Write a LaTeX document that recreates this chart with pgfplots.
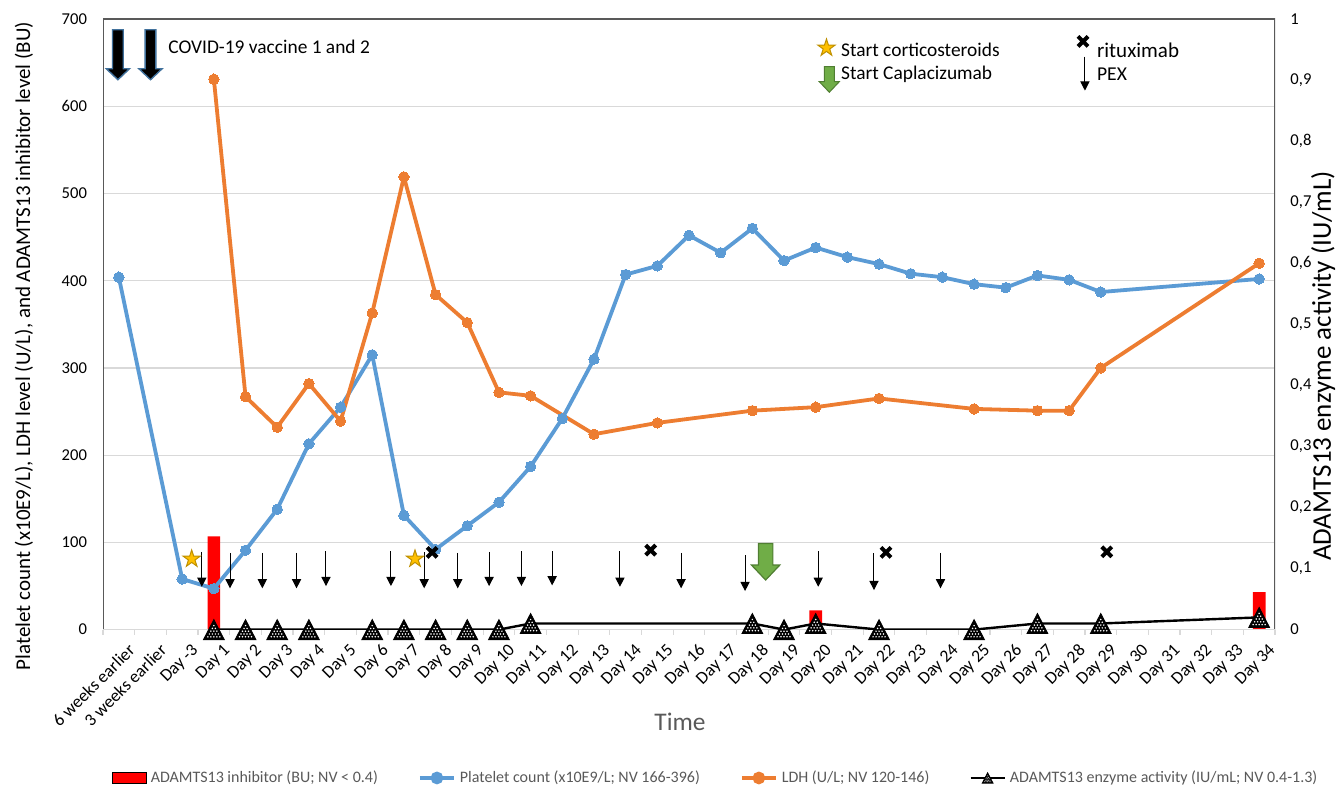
\documentclass[border=0pt]{standalone}
\usepackage{fontspec}
\setmainfont{Carlito}
\usepackage{pgfplots}
\pgfplotsset{compat=1.18}
\usetikzlibrary{arrows.meta}

\definecolor{platblue}{HTML}{5B9BD5}
\definecolor{ldhorange}{HTML}{ED7D31}
\definecolor{gridgray}{HTML}{D9D9D9}
\definecolor{axisgray}{HTML}{595959}
\definecolor{starfill}{HTML}{FFC000}
\definecolor{stardraw}{HTML}{BF9000}
\definecolor{capfill}{HTML}{70AD47}
\definecolor{capdraw}{HTML}{507E32}
\definecolor{vacdraw}{HTML}{41719C}

% dotted black triangle (ADAMTS13 activity)
\newcommand\tdot[2]{\pgfpathcircle{\pgfqpoint{#1\pgfplotmarksize}{#2\pgfplotmarksize}}{0.085\pgfplotmarksize}}
\pgfdeclareplotmark{dottri}{%
  \pgfsetfillcolor{black}%
  \pgfpathmoveto{\pgfqpoint{0pt}{\pgfplotmarksize}}%
  \pgfpathlineto{\pgfqpoint{-1.04\pgfplotmarksize}{-\pgfplotmarksize}}%
  \pgfpathlineto{\pgfqpoint{1.04\pgfplotmarksize}{-\pgfplotmarksize}}%
  \pgfpathclose
  \pgfusepathqfillstroke
  \begin{pgfscope}
  \pgfsetfillcolor{white}%
  \tdot{-0.6}{-0.72}\tdot{-0.3}{-0.72}\tdot{0}{-0.72}\tdot{0.3}{-0.72}\tdot{0.6}{-0.72}%
  \tdot{-0.45}{-0.44}\tdot{-0.15}{-0.44}\tdot{0.15}{-0.44}\tdot{0.45}{-0.44}%
  \tdot{-0.3}{-0.16}\tdot{0}{-0.16}\tdot{0.3}{-0.16}%
  \tdot{-0.15}{0.12}\tdot{0.15}{0.12}%
  \tdot{0}{0.4}%
  \pgfusepathqfill
  \end{pgfscope}
}
% filled five-pointed star
\pgfdeclareplotmark{fstar}{%
  \pgfpathmoveto{\pgfqpoint{0pt}{\pgfplotmarksize}}%
  \pgfpathlineto{\pgfqpoint{-0.2245\pgfplotmarksize}{0.309\pgfplotmarksize}}%
  \pgfpathlineto{\pgfqpoint{-0.951\pgfplotmarksize}{0.309\pgfplotmarksize}}%
  \pgfpathlineto{\pgfqpoint{-0.363\pgfplotmarksize}{-0.118\pgfplotmarksize}}%
  \pgfpathlineto{\pgfqpoint{-0.588\pgfplotmarksize}{-0.809\pgfplotmarksize}}%
  \pgfpathlineto{\pgfqpoint{0pt}{-0.382\pgfplotmarksize}}%
  \pgfpathlineto{\pgfqpoint{0.588\pgfplotmarksize}{-0.809\pgfplotmarksize}}%
  \pgfpathlineto{\pgfqpoint{0.363\pgfplotmarksize}{-0.118\pgfplotmarksize}}%
  \pgfpathlineto{\pgfqpoint{0.951\pgfplotmarksize}{0.309\pgfplotmarksize}}%
  \pgfpathlineto{\pgfqpoint{0.2245\pgfplotmarksize}{0.309\pgfplotmarksize}}%
  \pgfpathclose
  \pgfusepathqfillstroke
}
% heavy cross (rituximab), in units of the mark size
\pgfdeclareplotmark{boldx}{%
  \pgfpathmoveto{\pgfqpoint{0pt}{1.41\pgfplotmarksize}}%
  \pgfpathlineto{\pgfqpoint{1.79\pgfplotmarksize}{3.2\pgfplotmarksize}}%
  \pgfpathlineto{\pgfqpoint{3.2\pgfplotmarksize}{1.79\pgfplotmarksize}}%
  \pgfpathlineto{\pgfqpoint{1.41\pgfplotmarksize}{0pt}}%
  \pgfpathlineto{\pgfqpoint{3.2\pgfplotmarksize}{-1.79\pgfplotmarksize}}%
  \pgfpathlineto{\pgfqpoint{1.79\pgfplotmarksize}{-3.2\pgfplotmarksize}}%
  \pgfpathlineto{\pgfqpoint{0pt}{-1.41\pgfplotmarksize}}%
  \pgfpathlineto{\pgfqpoint{-1.79\pgfplotmarksize}{-3.2\pgfplotmarksize}}%
  \pgfpathlineto{\pgfqpoint{-3.2\pgfplotmarksize}{-1.79\pgfplotmarksize}}%
  \pgfpathlineto{\pgfqpoint{-1.41\pgfplotmarksize}{0pt}}%
  \pgfpathlineto{\pgfqpoint{-3.2\pgfplotmarksize}{1.79\pgfplotmarksize}}%
  \pgfpathlineto{\pgfqpoint{-1.79\pgfplotmarksize}{3.2\pgfplotmarksize}}%
  \pgfpathclose
  \pgfusepathqfill
}
% block arrow, anchored at its top (caplacizumab)
\pgfdeclareplotmark{caparrow}{%
  \pgfpathmoveto{\pgfqpoint{-3.6\pgfplotmarksize}{0pt}}%
  \pgfpathlineto{\pgfqpoint{3.6\pgfplotmarksize}{0pt}}%
  \pgfpathlineto{\pgfqpoint{3.6\pgfplotmarksize}{-10.8\pgfplotmarksize}}%
  \pgfpathlineto{\pgfqpoint{7.1\pgfplotmarksize}{-10.8\pgfplotmarksize}}%
  \pgfpathlineto{\pgfqpoint{0pt}{-18.3\pgfplotmarksize}}%
  \pgfpathlineto{\pgfqpoint{-7.1\pgfplotmarksize}{-10.8\pgfplotmarksize}}%
  \pgfpathlineto{\pgfqpoint{-3.6\pgfplotmarksize}{-10.8\pgfplotmarksize}}%
  \pgfpathclose
  \pgfusepathqfillstroke
}
% block arrow, anchored at its top (vaccine)
\pgfdeclareplotmark{vacarrow}{%
  \pgfpathmoveto{\pgfqpoint{-2.7pt}{0pt}}%
  \pgfpathlineto{\pgfqpoint{2.7pt}{0pt}}%
  \pgfpathlineto{\pgfqpoint{2.7pt}{-19.5pt}}%
  \pgfpathlineto{\pgfqpoint{5.8pt}{-19.5pt}}%
  \pgfpathlineto{\pgfqpoint{0pt}{-25pt}}%
  \pgfpathlineto{\pgfqpoint{-5.8pt}{-19.5pt}}%
  \pgfpathlineto{\pgfqpoint{-2.7pt}{-19.5pt}}%
  \pgfpathclose
  \pgfusepathqfillstroke
}

\begin{document}
\begin{tikzpicture}
\path[use as bounding box] (0pt,0pt) rectangle (670pt,394pt);
\begin{axis}[
  at={(51.5pt,79.2pt)}, anchor=south west,
  scale only axis, width=586pt, height=305.3pt,
  xmin=-0.5, xmax=36.5, ymin=0, ymax=700,
  axis line style={draw=none},
  xtick={0,...,36},
  xticklabels={6 weeks earlier,3 weeks earlier,Day -3,Day 1,Day 2,Day 3,Day 4,Day 5,Day 6,Day 7,Day 8,Day 9,Day 10,Day 11,Day 12,Day 13,Day 14,Day 15,Day 16,Day 17,Day 18,Day 19,Day 20,Day 21,Day 22,Day 23,Day 24,Day 25,Day 26,Day 27,Day 28,Day 29,Day 30,Day 31,Day 32,Day 33,Day 34},
  minor xtick={-0.5,0.5,...,36.5},
  xtick pos=left, xticklabel pos=left,
  ytick={0,100,...,700}, ytick pos=left, yticklabel pos=left,
  tick align=outside, major tick length=0pt, minor tick length=2.6pt,
  minor x tick style={gridgray, line width=0.6pt},
  ymajorgrids, major grid style={gridgray, line width=0.6pt},
  ticklabel style={font=\fontsize{8.3}{10}\selectfont},
  xticklabel style={rotate=45, anchor=north east, inner sep=1pt, xshift=-0.5pt, yshift=-6.5pt, font=\fontsize{8.8}{10}\selectfont},
  yticklabel style={xshift=-4.5pt},
  /pgf/number format/assume math mode=true,
  ylabel={Platelet count (x10E9/L), LDH level (U/L), and ADAMTS13 inhibitor level (BU)},
  ylabel style={at={(axis description cs:-0.0674,0.4645)}, anchor=center, font=\fontsize{10.5}{12}\selectfont},
  xlabel={Time},
  xlabel style={at={(axis description cs:0.4923,-0.151)}, anchor=center, font=\fontsize{12.7}{15}\selectfont, text=axisgray},
]
  % ADAMTS13 inhibitor (BU)
  \addplot[ybar, bar width=6.35pt, bar shift=0pt, fill=red, draw=none]
    coordinates {(3,107) (22,22) (36,43)};
  % platelet count
  \addplot[platblue, line width=1.9pt, line join=round, mark=*, mark size=2.6pt, mark options={solid, fill=platblue, draw=platblue, line width=0pt}]
    coordinates {(0,404) (2,58) (3,47) (4,91) (5,138) (6,213) (7,255) (8,315) (9,131) (10,92)
      (11,119) (12,146) (13,187) (14,242) (15,310) (16,407) (17,417) (18,452) (19,432) (20,460)
      (21,423) (22,438) (23,427) (24,419) (25,408) (26,404) (27,396) (28,392) (29,406) (30,401)
      (31,387) (36,402)};
  % LDH
  \addplot[ldhorange, line width=1.9pt, line join=round, mark=*, mark size=2.6pt, mark options={solid, fill=ldhorange, draw=ldhorange, line width=0pt}]
    coordinates {(3,631) (4,267) (5,232) (6,282) (7,239) (8,363) (9,519) (10,384) (11,352)
      (12,272) (13,268) (15,224) (17,237) (20,251) (22,255) (24,265) (27,253) (29,251)
      (30,251) (31,300) (36,420)};
  % PEX
  \addplot[forget plot, black, line width=0.5pt, -{Triangle[width=4.6pt,length=4.6pt]},
    quiver={u=0, v=\thisrow{v}}] table {
    x y v
    2.62 89.2 -40.1
    3.51 88.1 -40.8
    4.53 88.1 -40.8
    5.61 88.1 -40.8
    6.54 90.0 -40.1
    8.59 90.0 -40.1
    9.64 88.5 -41.2
    10.70 88.1 -40.8
    11.69 89.2 -39.3
    12.71 90.0 -40.1
    13.68 90.0 -39.3
    15.82 90.0 -40.9
    17.75 88.1 -40.8
    19.77 85.4 -41.2
    22.08 90.0 -40.9
    23.84 87.4 -42.1
    25.94 88.1 -40.8
    30.50 656.8 -38.9
  };
  % rituximab
  \addplot[forget plot, only marks, mark=boldx, mark size=1pt, mark options={fill=black}]
    coordinates {(9.89,88.5) (16.79,91.1) (24.22,88.5) (31.19,89.2) (30.44,674.3)};
  % corticosteroids
  \addplot[forget plot, only marks, mark=fstar, mark size=4.5pt, mark options={fill=starfill, draw=stardraw, line width=0.5pt}]
    coordinates {(2.30,81) (9.35,81) (22.34,666.8)};
  % caplacizumab
  \addplot[forget plot, only marks, mark=caparrow, mark size=1pt, mark options={fill=capfill, draw=capdraw, line width=0.6pt}]
    coordinates {(20.42,98.8)};
  \addplot[forget plot, only marks, mark=caparrow, mark size=0.7pt, mark options={fill=capfill, draw=capdraw, line width=0.5pt}]
    coordinates {(22.43,645.4)};
  % COVID-19 vaccine
  \addplot[forget plot, only marks, mark=vacarrow, mark options={fill=black, draw=vacdraw, line width=0.7pt}]
    coordinates {(-0.03,687.7) (1.0,687.7)};
  \node[anchor=west, inner sep=0pt, font=\fontsize{9.7}{11}\selectfont] at (axis cs:1.55,668.3) {COVID-19 vaccine 1 and 2};
  \node[anchor=west, inner sep=0pt, font=\fontsize{9.7}{11}\selectfont] at (axis cs:22.79,664.5) {Start corticosteroids};
  \node[anchor=west, inner sep=0pt, font=\fontsize{9.7}{11}\selectfont] at (axis cs:22.79,637) {Start Caplacizumab};
  \node[anchor=west, inner sep=0pt, font=\fontsize{10.5}{12}\selectfont] at (axis cs:30.87,664.5) {rituximab};
  \node[anchor=west, inner sep=0pt, font=\fontsize{9.8}{11}\selectfont] at (axis cs:30.87,637) {PEX};
  % frame
  \draw[axisgray, line width=0.8pt] (rel axis cs:0,0) -- (rel axis cs:0,1) -- (rel axis cs:1,1) -- (rel axis cs:1,0);
  \draw[gridgray, line width=0.8pt] (rel axis cs:0,0) -- (rel axis cs:1,0);
\end{axis}
\begin{axis}[
  at={(51.5pt,79.2pt)}, anchor=south west,
  scale only axis, width=586pt, height=305.3pt,
  xmin=-0.5, xmax=36.5, ymin=0, ymax=1,
  hide x axis,
  axis line style={draw=none},
  ytick={0,0.1,0.2,0.3,0.4,0.5,0.6,0.7,0.8,0.9,1},
  ytick pos=right, yticklabel pos=right,
  major tick length=0pt,
  ticklabel style={font=\fontsize{8.3}{10}\selectfont},
  yticklabel style={xshift=4.2pt},
  /pgf/number format/.cd, use comma, fixed, precision=1, assume math mode=true, /pgfplots/.cd,
  ylabel={ADAMTS13 enzyme activity (IU/mL)},
  ylabel style={at={(axis description cs:1.041,0.4317)}, anchor=center, font=\fontsize{13.5}{15}\selectfont},
  legend style={at={(axis description cs:0.5235,-0.243)}, anchor=center, legend columns=4,
    draw=none, fill=none, text=axisgray, font=\fontsize{8}{10}\selectfont,
    /tikz/every even column/.append style={column sep=18pt}},
]
  \addlegendimage{area legend, fill=red, draw=none}
  \addlegendentry{ADAMTS13 inhibitor (BU; NV < 0.4)}
  \addlegendimage{platblue, line width=1.9pt, mark=*, mark size=2.2pt, mark options={solid, fill=platblue, draw=platblue}}
  \addlegendentry{Platelet count (x10E9/L; NV 166-396)}
  \addlegendimage{ldhorange, line width=1.9pt, mark=*, mark size=2.2pt, mark options={solid, fill=ldhorange, draw=ldhorange}}
  \addlegendentry{LDH (U/L; NV 120-146)}
  \addplot[black, line width=1.2pt, mark=dottri, mark size=5pt, mark options={solid, draw=black, line width=0.4pt},
    legend image post style={mark size=2.6pt}]
    coordinates {(3,0) (4,0) (5,0) (6,0) (8,0) (9,0) (10,0) (11,0) (12,0) (13,0.01) (20,0.01)
      (21,0) (22,0.01) (24,0) (27,0) (29,0.01) (31,0.01) (36,0.02)};
  \addlegendentry{ADAMTS13 enzyme activity (IU/mL; NV 0.4-1.3)}
\end{axis}
\end{tikzpicture}
\end{document}
